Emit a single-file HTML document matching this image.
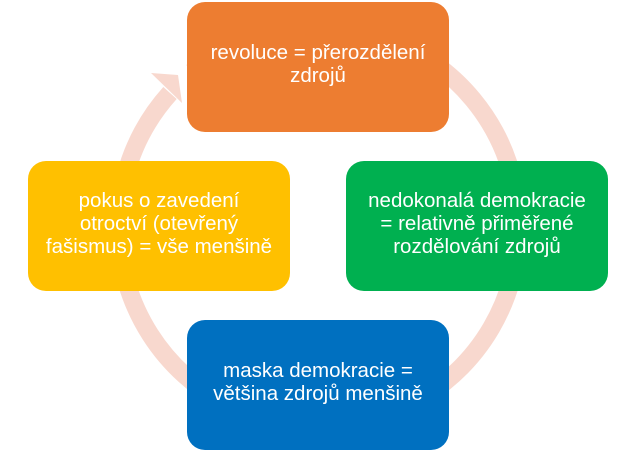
<!DOCTYPE html>
<html><head><style>
body{margin:0;width:636px;height:452px;background:#fff;position:relative;overflow:hidden;font-family:"Liberation Sans",sans-serif}
.b{position:absolute;width:262px;height:130px;border-radius:18px;color:#fff;font-size:20.5px;line-height:23px;display:flex;align-items:center;justify-content:center;text-align:center;box-sizing:border-box;padding:0 2px 6px;white-space:nowrap}
</style></head><body>
<svg width="636" height="452" style="position:absolute;left:0;top:0">
<path d="M 170 93 A 200 200 0 1 0 192 72" fill="none" stroke="#F8D8CE" stroke-width="18"/>
<polygon points="151,73 178,75 182,103" fill="#F8D8CE"/>
</svg>
<div class="b" style="left:187px;top:2px;background:#ED7D31">revoluce = přerozdělení<br>zdrojů</div>
<div class="b" style="left:346px;top:161px;background:#00B050">nedokonalá demokracie<br>= relativně přiměřené<br>rozdělování zdrojů</div>
<div class="b" style="left:187px;top:320px;background:#0070C0">maska demokracie =<br>většina zdrojů menšině</div>
<div class="b" style="left:28px;top:161px;background:#FFC000">pokus o zavedení<br>otroctví (otevřený<br>fašismus) = vše menšině</div>
</body></html>
